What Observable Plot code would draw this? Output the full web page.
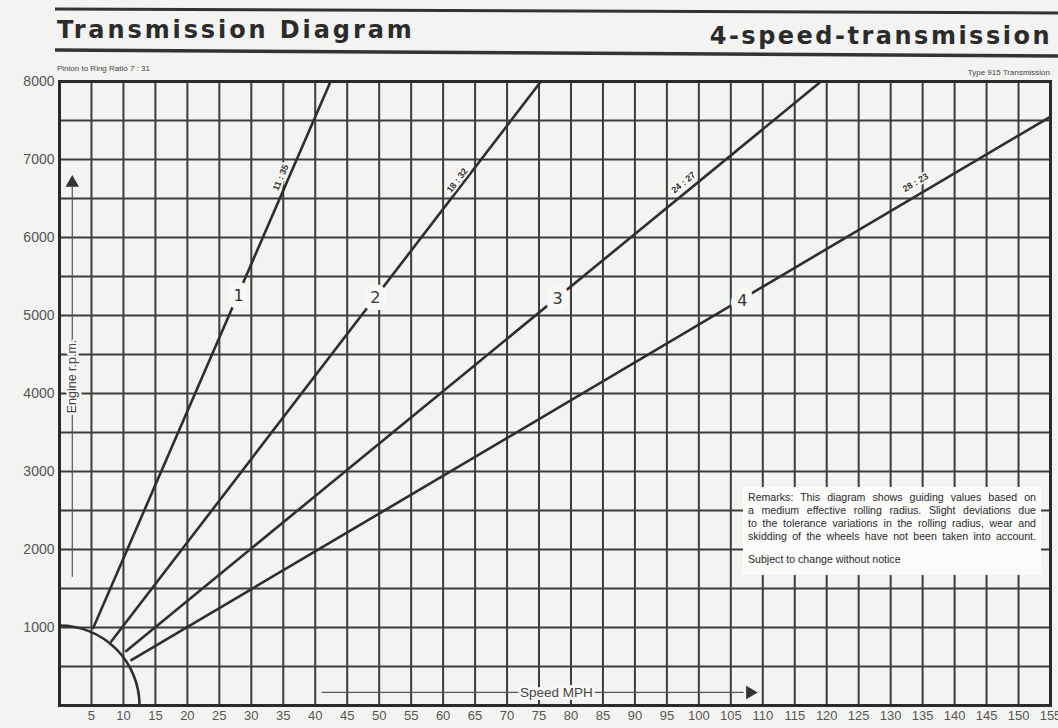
<!DOCTYPE html>
<html>
<head>
<meta charset="utf-8">
<script src="https://cdn.jsdelivr.net/npm/d3@7"></script>
<script src="https://cdn.jsdelivr.net/npm/@observablehq/plot@0.6"></script>
<style>
  html, body { margin: 0; padding: 0; background: #f3f3f1; }
  #wrap { position: relative; width: 1058px; height: 728px; overflow: hidden; background: #f3f3f1; }
  #chart { position: absolute; left: 0; top: 0; }
  .title { position: absolute; font-family: "DejaVu Sans", sans-serif; font-weight: bold; font-size: 24px; color: #2b2b2b; white-space: nowrap; line-height: 1; }
  .small { position: absolute; font-family: "Liberation Sans", Arial, sans-serif; font-size: 8px; color: #444; white-space: nowrap; }
  #remarks { position: absolute; left: 743px; top: 487px; width: 288px; height: 80px; padding: 4px 5px; background: #fbfbfa;
    font-family: "Liberation Sans", Arial, sans-serif; font-size: 10.6px; line-height: 13px; color: #2a2a2a; }
  #remarks span { display: block; text-align: justify; text-align-last: justify; white-space: nowrap; }
  #remarks span.last { text-align-last: left; }
</style>
</head>
<body>
<div id="wrap">
  <div id="chart"></div>
  <svg id="rules" width="1058" height="60" style="position:absolute;left:0;top:0">
    <line x1="55" y1="9" x2="1058" y2="13" stroke="#333" stroke-width="3"></line>
    <line x1="55" y1="50" x2="1058" y2="56" stroke="#333" stroke-width="3.5"></line>
  </svg>
  <div class="title" style="left:57px; top:18px; letter-spacing:2.9px;">Transmission Diagram</div>
  <div class="title" style="right:6px; top:24px; letter-spacing:2.5px;">4-speed-transmission</div>
  <div class="small" style="left:57px; top:64px;">Pinion to Ring Ratio 7 : 31</div>
  <div class="small" style="right:8px; top:68px;">Type 915 Transmission</div>
  <div id="remarks">
    <span>Remarks: This diagram shows guiding values based on</span>
    <span>a medium effective rolling radius. Slight deviations due</span>
    <span>to the tolerance variations in the rolling radius, wear and</span>
    <span>skidding of the wheels have not been taken into account.</span>
    <span class="last" style="margin-top:10px">Subject to change without notice</span>
  </div>
</div>
<script>
// ---- data ----
const xTicks = [5, 10, 15, 20, 25, 30, 35, 40, 45, 50, 55, 60, 65, 70, 75, 80, 85, 90, 95, 100, 105, 110, 115, 120, 125, 130, 135, 140, 145, 150, 155];
const yTicks = [1000, 2000, 3000, 4000, 5000, 6000, 7000, 8000];
const yGrid = [500, 1000, 1500, 2000, 2500, 3000, 3500, 4000, 4500, 5000, 5500, 6000, 6500, 7000, 7500];

const gears = ["1", "2", "3", "4"];
const gearRatios = ["11 : 35", "18 : 32", "24 : 27", "28 : 23"];
const gearStartMph = [5.2, 8.0, 10.3, 11.1];
const gearStartRpm = [980, 810, 690, 575];
const gearEndMph = [42.4, 75.3, 119.1, 155];
const gearEndRpm = [8000, 8000, 8000, 7550];
const gearNumberMph = [28.0, 49.4, 77.9, 106.8];
const gearNumberRpm = [5256, 5231, 5218, 5192];
const gearRatioMph = [34.6, 62.2, 97.6, 133.9];
const gearRatioRpm = [6769, 6731, 6705, 6705];

const xLabel = "Speed MPH";
const yLabel = "Engine r.p.m.";

// ---- layout ----
const W = 1058, H = 728;
const M = {top: 81, right: 8, bottom: 23, left: 59};
const xDomain = [0, 155], yDomain = [0, 8000];
const pxPerX = (W - M.left - M.right) / (xDomain[1] - xDomain[0]);
const pxPerY = (H - M.top - M.bottom) / (yDomain[1] - yDomain[0]);

const gearTable = gears.map((g, i) => {
  const dx = (gearEndMph[i] - gearStartMph[i]) * pxPerX;
  const dy = (gearEndRpm[i] - gearStartRpm[i]) * pxPerY;
  return {
    gear: g, ratio: gearRatios[i],
    x1: gearStartMph[i], y1: gearStartRpm[i], x2: gearEndMph[i], y2: gearEndRpm[i],
    nx: gearNumberMph[i], ny: gearNumberRpm[i], rx: gearRatioMph[i], ry: gearRatioRpm[i],
    angle: -Math.atan2(dy, dx) * 180 / Math.PI
  };
});

const ink = "#2e2e2e";
const grid = "#3c3c3c";
const halo = "#f8f8f6";

const chart = Plot.plot({
  width: W, height: H,
  marginTop: M.top, marginRight: M.right, marginBottom: M.bottom, marginLeft: M.left,
  style: {background: "transparent", fontFamily: "Liberation Sans, Arial, sans-serif", overflow: "visible"},
  x: {domain: xDomain},
  y: {domain: yDomain},
  marks: [
    Plot.ruleX(xTicks, {stroke: grid, strokeWidth: 2}),
    Plot.ruleY(yGrid, {stroke: grid, strokeWidth: 2}),
    // quarter circle at the origin
    Plot.dot([{x: 0, y: 0}], {x: "x", y: "y", r: 80, fill: "none", stroke: ink, strokeWidth: 2.6, clip: "frame"}),
    // gear lines
    Plot.link(gearTable, {x1: "x1", y1: "y1", x2: "x2", y2: "y2", stroke: ink, strokeWidth: 2.6, clip: "frame"}),
    // gear numbers with white gap
    Plot.text(gearTable, {x: "nx", y: "ny", text: "gear", fontSize: 16, fill: "#333", stroke: halo, strokeWidth: 14, fontFamily: "DejaVu Sans, sans-serif"}),
    // ratio labels along the lines
    Plot.text(gearTable, {x: "rx", y: "ry", text: "ratio", rotate: "angle", fontSize: 9, fontWeight: "bold", fill: "#333", stroke: halo, strokeWidth: 4}),
    // engine rpm arrow
    Plot.link([{x: 2, a: 1650, b: 6650}], {x1: "x", x2: "x", y1: "a", y2: "b", stroke: "#555", strokeWidth: 1.2}),
    Plot.dot([{x: 2, y: 6700}], {x: "x", y: "y", symbol: "triangle", r: 5, fill: "#333", stroke: "none"}),
    Plot.text([{x: 2, y: 4218, t: yLabel}], {x: "x", y: "y", text: "t", rotate: -90, fontSize: 12.5, fill: "#444", stroke: halo, strokeWidth: 5}),
    // speed arrow
    Plot.link([{y: 167, a: 41, b: 107}], {y1: "y", y2: "y", x1: "a", x2: "b", stroke: "#555", strokeWidth: 1.2}),
    Plot.dot([{x: 108, y: 167}], {x: "x", y: "y", symbol: "triangle", rotate: 90, r: 5, fill: "#333", stroke: "none"}),
    Plot.text([{x: 77.7, y: 167, t: xLabel}], {x: "x", y: "y", text: "t", fontSize: 13.5, fill: "#444", stroke: halo, strokeWidth: 6, letterSpacing: 0.4}),
    // axes
    Plot.axisX(xTicks, {tickSize: 0, tickPadding: 5, fontSize: 13, fill: "#555", fontFamily: "Liberation Sans Narrow, Arial Narrow, sans-serif", tickFormat: "d", label: null}),
    Plot.axisY(yTicks, {tickSize: 0, tickPadding: 5, fontSize: 14, fill: "#555", tickFormat: "d", label: null}),
    Plot.frame({stroke: "#2a2a2a", strokeWidth: 3})
  ]
});
document.getElementById("chart").appendChild(chart);
</script>
</body>
</html>
